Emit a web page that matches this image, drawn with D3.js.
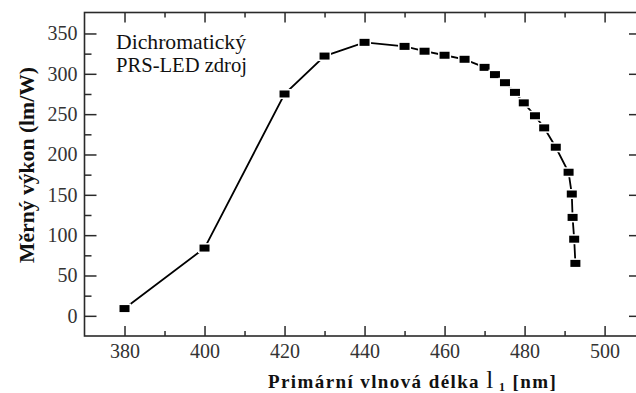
<!DOCTYPE html>
<html>
<head>
<meta charset="utf-8">
<script src="https://cdn.jsdelivr.net/npm/d3@7"></script>
<style>
  body { margin: 0; background: #fff; }
  svg { display: block; }
</style>
</head>
<body>
<div id="chart"></div>
<script>
// Wavelength (nm) and luminous efficacy (lm/W)
const wavelength = [380, 400, 420, 430, 440, 450, 455, 460, 465, 470, 472.6, 475.1, 477.6, 479.8,
                    482.6, 484.9, 487.8, 491, 491.8, 492, 492.4, 492.7];
const efficacy = [9, 84, 275, 322, 339, 334, 328, 323, 318, 308, 299, 289, 277, 264,
                  248, 233, 209, 178, 151, 122, 95, 65];

const xTicks = [380, 400, 420, 440, 460, 480, 500];
const xMinor = [390, 410, 430, 450, 470, 490];
const yTicks = [0, 50, 100, 150, 200, 250, 300, 350];
const yMinor = [25, 75, 125, 175, 225, 275, 325];
const noteLines = ["Dichromatický", "PRS-LED zdroj"];

const width = 636, height = 393;
const frame = { left: 84.5, right: 637, top: 12.5, bottom: 336 };

const svg = d3.select("#chart").append("svg")
    .attr("width", width).attr("height", height);

const x = d3.scaleLinear().domain([370, 508.1]).range([frame.left, frame.right]);
const y = d3.scaleLinear().domain([-25, 376]).range([frame.bottom, frame.top]);

const axisColor = "#2a2a2a";
const serif = "Liberation Serif, DejaVu Serif, serif";

// Axes (ticks pointing inward)
function styleAxis(g) {
    g.attr("font-family", serif).attr("font-size", 20);
    g.select(".domain").remove();
    g.selectAll("line").attr("stroke", axisColor).attr("stroke-width", 1.5);
    g.selectAll("text").attr("fill", "#333");
}

svg.append("g").attr("transform", `translate(0,${frame.bottom})`)
    .call(d3.axisBottom(x).tickValues(xTicks).tickSize(-10).tickPadding(8).tickFormat(d3.format("d")))
    .call(styleAxis);
svg.append("g").attr("transform", `translate(0,${frame.bottom})`)
    .call(d3.axisBottom(x).tickValues(xMinor).tickSize(-5).tickFormat(""))
    .call(styleAxis);
svg.append("g").attr("transform", `translate(0,${frame.top})`)
    .call(d3.axisTop(x).tickValues(xTicks).tickSize(-10).tickFormat(""))
    .call(styleAxis);
svg.append("g").attr("transform", `translate(0,${frame.top})`)
    .call(d3.axisTop(x).tickValues(xMinor).tickSize(-5).tickFormat(""))
    .call(styleAxis);

svg.append("g").attr("transform", `translate(${frame.left},0)`)
    .call(d3.axisLeft(y).tickValues(yTicks).tickSize(-12).tickPadding(7).tickFormat(d3.format("d")))
    .call(styleAxis);
svg.append("g").attr("transform", `translate(${frame.left},0)`)
    .call(d3.axisLeft(y).tickValues(yMinor).tickSize(-7).tickFormat(""))
    .call(styleAxis);
svg.append("g").attr("transform", `translate(${frame.right},0)`)
    .call(d3.axisRight(y).tickValues(yTicks).tickSize(-8).tickFormat(""))
    .call(styleAxis);

// Frame
svg.append("rect")
    .attr("x", frame.left).attr("y", frame.top)
    .attr("width", frame.right - frame.left).attr("height", frame.bottom - frame.top)
    .attr("fill", "none").attr("stroke", axisColor).attr("stroke-width", 1.6);

// Data line
const pts = wavelength.map((w, i) => [w, efficacy[i]]);
svg.append("path")
    .datum(pts)
    .attr("fill", "none").attr("stroke", "#000").attr("stroke-width", 1.8)
    .attr("d", d3.line().x(d => x(d[0])).y(d => y(d[1])));

// Square markers with white halo (gives the broken-line look)
svg.append("g").selectAll("rect").data(pts).join("rect")
    .attr("x", d => x(d[0]) - 5).attr("y", d => y(d[1]) - 3.5)
    .attr("width", 10).attr("height", 7)
    .attr("fill", "#000").attr("stroke", "#fff").attr("stroke-width", 3)
    .attr("paint-order", "stroke");

// Note text
svg.append("g").selectAll("text").data(noteLines).join("text")
    .attr("x", 116).attr("y", (d, i) => 48.5 + i * 23.5)
    .attr("font-family", serif).attr("font-size", 21).attr("fill", "#111")
    .attr("textLength", (d, i) => i === 0 ? 130 : 131).attr("lengthAdjust", "spacingAndGlyphs")
    .text(d => d);

// Y label
svg.append("text")
    .attr("transform", "translate(34,165) rotate(-90)")
    .attr("text-anchor", "middle")
    .attr("font-family", serif).attr("font-weight", "bold").attr("font-size", 20).attr("fill", "#111")
    .attr("textLength", 196).attr("lengthAdjust", "spacingAndGlyphs")
    .text("Měrný výkon (lm/W)");

// X label
const xl = svg.append("text")
    .attr("x", 268).attr("y", 388)
    .attr("font-family", serif).attr("font-weight", "bold").attr("font-size", 19).attr("fill", "#111")
    .attr("letter-spacing", 1.4);
xl.append("tspan").text("Primární vlnová délka ");
xl.append("tspan").attr("font-size", 25).attr("font-weight", "normal").text("l");
xl.append("tspan").attr("font-size", 12).attr("dy", 3).text(" 1");
xl.append("tspan").attr("dy", -3).text(" [nm]");
</script>
</body>
</html>
